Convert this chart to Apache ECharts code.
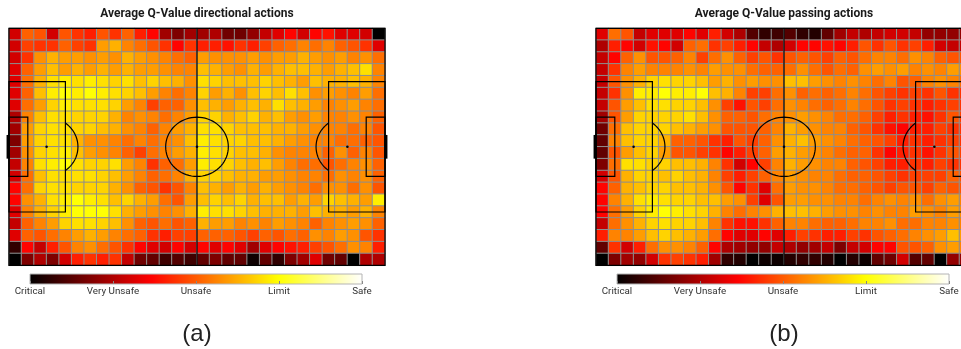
<!DOCTYPE html>
<html><head><meta charset="utf-8">
<script src="https://cdn.jsdelivr.net/npm/echarts@6/dist/echarts.min.js"></script>
<style>html,body{margin:0;padding:0;background:#fff;overflow:hidden}#c{width:990px;height:349px}</style>
</head><body><div id="c"></div>
<script>
// ---------- data ----------
const titles = ['Average Q-Value directional actions', 'Average Q-Value passing actions'];
const captions = ['(a)', '(b)'];
const scaleLabels = ['Critical', 'Very Unsafe', 'Unsafe', 'Limit', 'Safe'];
const scaleTicks = [0, 0.25, 0.5, 0.75, 1];
const columnCategories = ['0','1','2','3','4','5','6','7','8','9','10','11','12','13','14','15','16','17','18','19','20','21','22','23','24','25','26','27','28','29'];
const rowCategories = ['0','1','2','3','4','5','6','7','8','9','10','11','12','13','14','15','16','17','18','19'];

const directionalValues = [
[.30,.51,.49,.30,.49,.44,.41,.49,.44,.51,.41,.37,.23,.18,.23,.23,.25,.16,.16,.21,.28,.32,.37,.30,.37,.39,.32,.32,.30,.00],
[.30,.46,.44,.44,.51,.46,.44,.60,.63,.56,.53,.49,.44,.37,.44,.41,.41,.39,.44,.41,.46,.51,.53,.56,.53,.56,.51,.49,.44,.32],
[.30,.44,.58,.63,.60,.60,.58,.60,.58,.63,.60,.58,.56,.53,.51,.60,.58,.58,.58,.60,.58,.60,.60,.63,.60,.58,.60,.56,.58,.53],
[.32,.51,.60,.65,.60,.63,.60,.63,.60,.63,.60,.60,.58,.56,.56,.65,.63,.60,.58,.63,.60,.63,.65,.65,.63,.60,.63,.65,.70,.56],
[.32,.53,.63,.70,.72,.70,.72,.70,.68,.70,.65,.68,.65,.63,.58,.70,.68,.65,.65,.65,.68,.65,.63,.60,.65,.63,.63,.65,.63,.56],
[.32,.51,.65,.72,.75,.72,.75,.72,.70,.68,.65,.60,.56,.53,.56,.68,.60,.63,.58,.65,.68,.65,.70,.65,.58,.60,.58,.56,.60,.53],
[.32,.53,.60,.68,.72,.70,.70,.70,.68,.60,.56,.46,.51,.51,.58,.65,.63,.60,.63,.65,.63,.70,.65,.63,.60,.56,.58,.60,.56,.53],
[.25,.56,.65,.70,.70,.68,.68,.68,.63,.56,.58,.56,.53,.56,.60,.68,.68,.63,.65,.68,.63,.65,.60,.58,.60,.56,.56,.58,.56,.51],
[.23,.60,.68,.70,.70,.68,.68,.65,.63,.58,.56,.51,.56,.60,.63,.70,.70,.68,.65,.65,.65,.63,.63,.60,.58,.56,.56,.53,.56,.49],
[.18,.60,.68,.70,.70,.63,.58,.58,.56,.53,.56,.53,.56,.58,.65,.72,.70,.68,.68,.65,.65,.63,.60,.58,.56,.56,.53,.53,.51,.49],
[.23,.58,.68,.70,.72,.65,.60,.58,.56,.51,.46,.53,.56,.60,.63,.72,.70,.68,.65,.65,.63,.58,.56,.56,.56,.51,.58,.51,.56,.49],
[.28,.56,.70,.72,.75,.70,.68,.68,.70,.60,.56,.44,.51,.53,.60,.72,.70,.68,.65,.63,.65,.60,.56,.53,.53,.49,.53,.56,.58,.51],
[.30,.53,.65,.70,.70,.70,.70,.68,.65,.60,.56,.51,.53,.56,.63,.68,.68,.65,.63,.63,.60,.60,.58,.56,.56,.53,.58,.56,.58,.51],
[.37,.53,.68,.70,.70,.68,.68,.68,.63,.58,.51,.49,.44,.49,.56,.65,.63,.60,.63,.60,.63,.60,.58,.56,.53,.58,.58,.53,.58,.49],
[.37,.58,.63,.70,.72,.75,.72,.70,.65,.68,.63,.60,.53,.49,.60,.65,.68,.65,.68,.63,.65,.65,.60,.63,.60,.68,.65,.63,.60,.72],
[.32,.56,.63,.68,.72,.75,.75,.75,.70,.63,.60,.58,.56,.58,.63,.72,.70,.70,.68,.65,.63,.63,.63,.60,.65,.63,.63,.60,.63,.56],
[.28,.51,.56,.60,.68,.70,.70,.68,.65,.58,.51,.49,.53,.49,.51,.63,.60,.60,.56,.58,.56,.60,.58,.56,.51,.56,.58,.60,.58,.51],
[.32,.51,.49,.53,.56,.60,.63,.60,.56,.53,.51,.44,.41,.46,.46,.51,.51,.51,.49,.46,.51,.49,.53,.51,.58,.56,.60,.58,.49,.44],
[.07,.37,.28,.41,.49,.56,.58,.53,.49,.44,.37,.32,.30,.37,.30,.37,.32,.37,.32,.23,.32,.37,.39,.41,.46,.49,.53,.58,.56,.41],
[.00,.18,.25,.18,.30,.41,.44,.41,.44,.28,.16,.14,.09,.12,.09,.14,.18,.14,.14,.02,.14,.07,.18,.23,.32,.16,.14,.00,.25,.25]
];

const passingValues = [
[.32,.53,.49,.28,.32,.32,.32,.37,.32,.41,.30,.25,.12,.07,.09,.12,.07,.05,.14,.23,.28,.25,.28,.30,.30,.28,.21,.21,.21,.21],
[.25,.41,.37,.30,.39,.37,.30,.51,.53,.44,.46,.41,.37,.28,.25,.30,.37,.37,.39,.37,.41,.49,.44,.49,.44,.46,.41,.30,.28,.28],
[.28,.37,.51,.58,.49,.49,.51,.56,.46,.53,.58,.51,.46,.49,.44,.49,.51,.49,.46,.51,.49,.53,.56,.56,.53,.58,.56,.51,.49,.49],
[.28,.44,.56,.60,.56,.56,.56,.58,.56,.60,.58,.58,.53,.51,.51,.53,.58,.53,.49,.53,.51,.58,.60,.58,.60,.56,.58,.56,.60,.58],
[.28,.49,.58,.63,.68,.70,.68,.68,.65,.60,.63,.58,.60,.58,.58,.65,.65,.60,.58,.56,.58,.56,.53,.56,.49,.51,.56,.58,.56,.53],
[.28,.44,.58,.72,.72,.75,.72,.72,.75,.65,.63,.56,.46,.46,.53,.58,.51,.53,.51,.53,.56,.53,.49,.46,.44,.46,.44,.49,.44,.44],
[.28,.49,.60,.65,.70,.70,.68,.68,.65,.58,.46,.39,.49,.46,.53,.58,.56,.53,.51,.53,.56,.53,.49,.44,.46,.44,.41,.44,.46,.44],
[.23,.49,.60,.68,.68,.68,.68,.70,.65,.58,.51,.51,.49,.53,.56,.58,.60,.58,.56,.53,.53,.51,.46,.41,.44,.41,.39,.44,.49,.46],
[.16,.53,.65,.68,.68,.68,.65,.63,.60,.58,.49,.49,.49,.51,.56,.63,.60,.58,.56,.56,.51,.49,.44,.39,.37,.41,.41,.46,.44,.44],
[.14,.56,.65,.68,.68,.63,.51,.51,.49,.44,.41,.49,.46,.51,.58,.63,.65,.60,.58,.56,.53,.51,.49,.46,.41,.44,.41,.44,.46,.44],
[.14,.49,.60,.65,.68,.60,.49,.49,.46,.44,.37,.41,.46,.51,.60,.63,.60,.58,.56,.53,.51,.51,.44,.37,.41,.44,.39,.44,.49,.46],
[.18,.53,.70,.70,.68,.68,.65,.65,.63,.56,.44,.30,.37,.46,.56,.63,.60,.58,.56,.56,.51,.49,.46,.41,.41,.44,.41,.46,.44,.44],
[.30,.49,.63,.68,.68,.65,.68,.65,.63,.56,.46,.41,.46,.51,.56,.60,.58,.56,.56,.53,.51,.51,.49,.46,.44,.46,.46,.46,.51,.49],
[.37,.51,.63,.65,.68,.68,.65,.65,.63,.58,.49,.37,.44,.32,.53,.60,.58,.58,.56,.53,.53,.51,.49,.46,.49,.49,.46,.51,.49,.49],
[.37,.56,.63,.70,.72,.70,.68,.68,.65,.65,.60,.58,.46,.32,.49,.60,.60,.58,.58,.56,.56,.53,.56,.58,.56,.58,.53,.58,.60,.56],
[.37,.53,.60,.68,.72,.75,.72,.70,.68,.63,.56,.53,.56,.58,.63,.65,.65,.63,.60,.58,.58,.56,.58,.56,.56,.60,.58,.56,.60,.58],
[.28,.53,.58,.63,.68,.70,.68,.68,.65,.56,.44,.39,.39,.44,.51,.56,.56,.53,.51,.51,.53,.56,.56,.58,.53,.53,.56,.56,.58,.56],
[.41,.56,.56,.60,.65,.68,.65,.63,.60,.53,.37,.32,.32,.37,.32,.41,.46,.44,.41,.41,.46,.44,.49,.51,.53,.56,.58,.60,.65,.60],
[.14,.44,.30,.41,.53,.58,.58,.56,.51,.37,.25,.23,.21,.21,.28,.25,.21,.23,.28,.18,.28,.30,.37,.37,.49,.49,.51,.58,.60,.56],
[.00,.18,.23,.21,.30,.44,.46,.44,.41,.23,.07,.05,.00,.02,.02,.05,.07,.07,.05,.00,.05,.02,.14,.16,.30,.12,.14,.00,.21,.21]
];

// pitch geometry (StatsBomb 120 x 80 units)
const PITCH_LENGTH = 120, PITCH_WIDTH = 80;
const pitchShapes = [
  {kind:'rect', x0:0, y0:0, x1:120, y1:80},
  {kind:'line', x0:60, y0:0, x1:60, y1:80},
  {kind:'rect', x0:0, y0:18, x1:18, y1:62},
  {kind:'rect', x0:102, y0:18, x1:120, y1:62},
  {kind:'rect', x0:0, y0:30, x1:6, y1:50},
  {kind:'rect', x0:114, y0:30, x1:120, y1:50},
  {kind:'arc', cx:60, cy:40, r:10, a0:0, a1:360},
  {kind:'arc', cx:12, cy:40, r:10, a0:-53.13, a1:53.13},
  {kind:'arc', cx:108, cy:40, r:10, a0:126.87, a1:233.13},
  {kind:'spot', cx:12, cy:40},
  {kind:'spot', cx:108, cy:40},
  {kind:'spot', cx:60, cy:40},
  {kind:'line', x0:-0.3, y0:36, x1:-0.3, y1:44, w:3},
  {kind:'line', x0:120.3, y0:36, x1:120.3, y1:44, w:3}
];

// ---------- style helpers ----------
function hot(t) {
  const cl = v => Math.max(0, Math.min(1, v));
  const r = cl(t / 0.365), g = cl((t - 0.365) / 0.381), b = cl((t - 0.746) / 0.254);
  const h = v => Math.round(v * 255).toString(16).padStart(2, '0');
  return '#' + h(r) + h(g) + h(b);
}
const hotStops = [];
for (let i = 0; i <= 100; i++) hotStops.push(hot(i / 100));

function toCells(values) {
  const out = [];
  values.forEach((row, r) => row.forEach((v, c) => out.push([c, r, v])));
  return out;
}

function pitchRenderer(params, api) {
  const s = pitchShapes[params.dataIndex];
  const style = {stroke:'#000', fill:null, lineWidth: s.w || 1.2};
  if (s.kind === 'rect') {
    const p0 = api.coord([s.x0, s.y0]), p1 = api.coord([s.x1, s.y1]);
    return {type:'rect', shape:{x:Math.min(p0[0],p1[0]), y:Math.min(p0[1],p1[1]), width:Math.abs(p1[0]-p0[0]), height:Math.abs(p1[1]-p0[1])}, style};
  }
  if (s.kind === 'line') {
    const p0 = api.coord([s.x0, s.y0]), p1 = api.coord([s.x1, s.y1]);
    return {type:'line', shape:{x1:p0[0], y1:p0[1], x2:p1[0], y2:p1[1]}, style};
  }
  if (s.kind === 'arc') {
    const pts = [];
    for (let k = 0; k <= 72; k++) {
      const a = (s.a0 + (s.a1 - s.a0) * k / 72) * Math.PI / 180;
      pts.push(api.coord([s.cx + s.r * Math.cos(a), s.cy + s.r * Math.sin(a)]));
    }
    return {type:'polyline', shape:{points:pts}, style};
  }
  const p = api.coord([s.cx, s.cy]);
  return {type:'circle', shape:{cx:p[0], cy:p[1], r:1.3}, style:{fill:'#000'}};
}

const HEAT_LEFT = [9, 596], BAR_LEFT = [30, 617], CENTER = [197, 784];
const gradient = {type:'linear', x:0, y:0, x2:1, y2:0, colorStops: hotStops.map((c, i) => ({offset:i/100, color:c}))};

const grid = [], xAxis = [], yAxis = [], series = [], graphic = [];
[directionalValues, passingValues].forEach((vals, k) => {
  grid.push({left:HEAT_LEFT[k], top:28.3, width:376, height:237});
  grid.push({left:BAR_LEFT[k], top:274, width:332, height:10, show:true, backgroundColor:gradient, borderColor:'#b4b4b4', borderWidth:1});
  const g = k * 2;
  const xi = xAxis.length;
  xAxis.push({type:'category', gridIndex:g, data:columnCategories, show:false});
  xAxis.push({type:'value', gridIndex:g, min:0, max:PITCH_LENGTH, show:false});
  xAxis.push({type:'value', gridIndex:g+1, min:0, max:1, interval:0.25,
    axisLine:{show:false}, splitLine:{show:false},
    axisTick:{show:true, inside:true, length:3, lineStyle:{color:'#888'}},
    axisLabel:{fontSize:9.8, color:'#333', margin:3, fontFamily:'Roboto',
      formatter: v => scaleLabels[scaleTicks.indexOf(Math.round(v*4)/4)]}});
  yAxis.push({type:'category', gridIndex:g, data:rowCategories, inverse:true, show:false});
  yAxis.push({type:'value', gridIndex:g, min:0, max:PITCH_WIDTH, inverse:true, show:false});
  yAxis.push({type:'value', gridIndex:g+1, min:0, max:1, show:false});
  series.push({type:'heatmap', xAxisIndex:xi, yAxisIndex:xi, data:toCells(vals),
    itemStyle:{borderColor:'#8e8e8e', borderWidth:1}, z:2});
  series.push({type:'custom', xAxisIndex:xi+1, yAxisIndex:xi+1, clip:false, z:5,
    data: pitchShapes.map((_, i) => [i]), renderItem: pitchRenderer});
  graphic.push({type:'text', x:CENTER[k], y:14, style:{text:titles[k], textAlign:'center', textVerticalAlign:'middle', font:'bold 12px Roboto', fill:'#1a1a1a'}});
  graphic.push({type:'text', x:CENTER[k], y:334, style:{text:captions[k], textAlign:'center', textVerticalAlign:'middle', font:'24px "Liberation Sans", Arial', fill:'#222'}});
});

const chart = echarts.init(document.getElementById('c'), null, {renderer:'canvas', width:990, height:349});
chart.setOption({
  animation:false,
  backgroundColor:'#fff',
  grid, xAxis, yAxis, series, graphic,
  visualMap:{type:'continuous', min:0, max:1, show:false, seriesIndex:[0,2], inRange:{color:hotStops}}
});
</script></body></html>
